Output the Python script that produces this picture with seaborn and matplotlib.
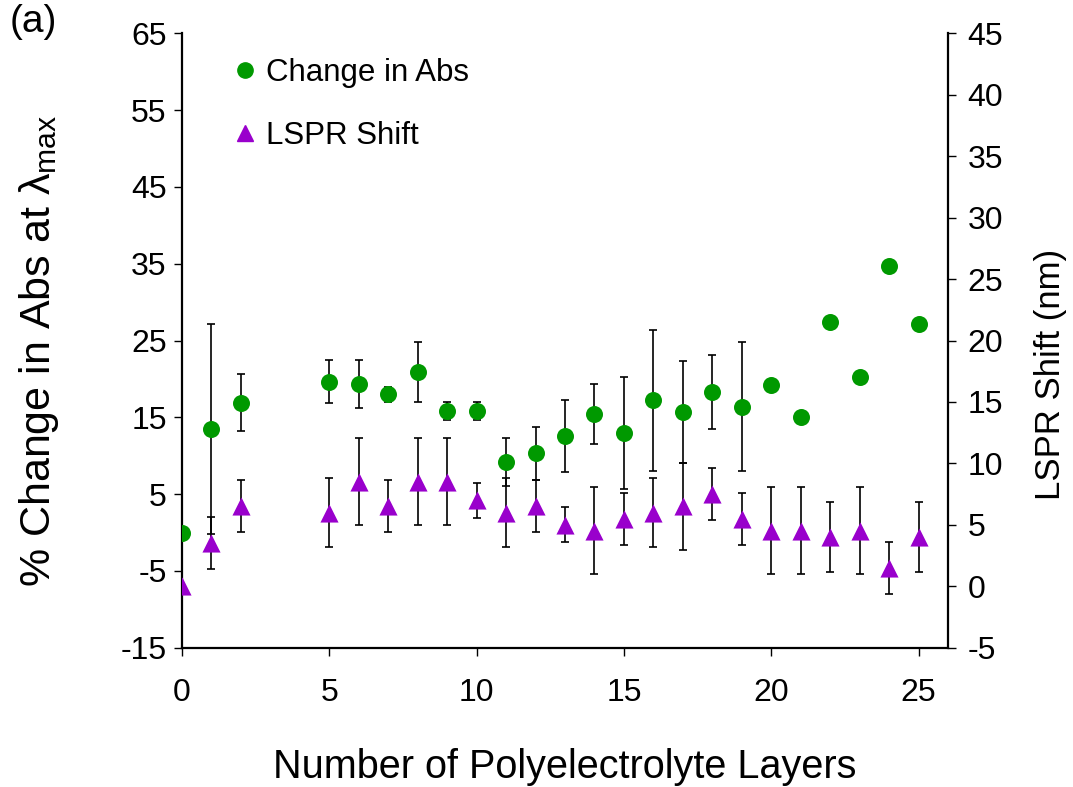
import matplotlib
matplotlib.use("Agg")
import matplotlib.pyplot as plt
from matplotlib.lines import Line2D
import numpy as np
import pandas as pd
import seaborn as sns

# Number of polyelectrolyte layers deposited
layers = [0, 1, 2, 5, 6, 7, 8, 9, 10, 11, 12, 13, 14, 15, 16, 17, 18, 19, 20, 21, 22, 23, 24, 25]

# % change in absorbance at lambda_max (left axis) and its standard deviation
abs_change = [0.0, 13.5, 16.9, 19.6, 19.3, 18.0, 20.9, 15.8, 15.8, 9.2, 10.3, 12.6,
              15.4, 13.0, 17.2, 15.7, 18.3, 16.4, 19.2, 15.0, 27.4, 20.2, 34.7, 27.1]
abs_err = [0.0, 13.7, 3.7, 2.8, 3.1, 1.0, 3.9, 1.2, 1.2, 3.1, 3.5, 4.7,
           3.9, 7.3, 9.2, 6.6, 4.8, 8.4, 0.0, 0.0, 0.0, 0.0, 0.0, 0.0]

# LSPR shift in nm (right axis) and its standard deviation
lspr_shift = [0.0, 3.5, 6.5, 6.0, 8.5, 6.5, 8.5, 8.5, 7.0, 6.0, 6.5, 5.0,
              4.5, 5.5, 6.0, 6.5, 7.5, 5.5, 4.5, 4.5, 4.0, 4.5, 1.5, 4.0]
lspr_err = [0.0, 2.12, 2.12, 2.83, 3.54, 2.12, 3.54, 3.54, 1.41, 2.83, 2.12, 1.41,
            3.54, 2.12, 2.83, 3.54, 2.12, 2.12, 3.54, 3.54, 2.83, 3.54, 2.12, 2.83]

left_ticks = list(range(-15, 66, 10))
right_ticks = list(range(-5, 46, 5))
x_ticks = list(range(0, 26, 5))

GREEN = "#009900"
PURPLE = "#9900CC"

sns.set_theme(style="ticks")
plt.rcParams["font.family"] = ["Liberation Sans", "DejaVu Sans"]
plt.rcParams["mathtext.fontset"] = "custom"
plt.rcParams["mathtext.rm"] = "Liberation Sans"
plt.rcParams["mathtext.it"] = "Liberation Sans:italic"
plt.rcParams["axes.unicode_minus"] = False
plt.rcParams["text.color"] = "black"
plt.rcParams["axes.labelcolor"] = "black"

df = pd.DataFrame({"layers": layers, "abs": abs_change, "abs_err": abs_err,
                   "lspr": lspr_shift, "lspr_err": lspr_err})

fig = plt.figure(figsize=(10.73, 7.87), dpi=100)
ax = fig.add_axes([182 / 1073, 1 - 647.7 / 787, (948 - 182) / 1073, (647.7 - 33.3) / 787])
ax2 = ax.twinx()

# error bars underneath the markers
ax.errorbar(df["layers"], df["abs"], yerr=df["abs_err"], fmt="none", ecolor="black",
            elinewidth=1.2, capsize=3, capthick=1.2, zorder=1)
ax2.errorbar(df["layers"], df["lspr"], yerr=df["lspr_err"], fmt="none", ecolor="black",
             elinewidth=1.2, capsize=3, capthick=1.2, zorder=1)

sns.scatterplot(data=df, x="layers", y="abs", ax=ax, color=GREEN, marker="o",
                s=150, linewidth=0, zorder=3, legend=False)
sns.scatterplot(data=df, x="layers", y="lspr", ax=ax2, color=PURPLE, marker="^",
                s=170, linewidth=0, zorder=3, legend=False)

ax.set_xlim(0, 26)
ax.set_ylim(-15, 65)
ax2.set_ylim(-5, 45)
ax.set_xticks(x_ticks)
ax.set_yticks(left_ticks)
ax2.set_yticks(right_ticks)

for a in (ax, ax2):
    a.spines["top"].set_visible(False)
    for s in ("left", "right", "bottom"):
        a.spines[s].set_linewidth(1.6)
        a.spines[s].set_color("black")
ax.spines["right"].set_visible(False)
ax2.spines["left"].set_visible(False)
ax2.spines["bottom"].set_visible(False)

ax.tick_params(axis="y", direction="out", length=6, width=1.0, labelsize=23, pad=5, colors="black")
ax.tick_params(axis="x", direction="out", length=6, width=1.0, labelsize=23, pad=16, colors="black")
ax2.tick_params(axis="y", direction="out", length=6, width=1.0, labelsize=23, pad=8, colors="black")

ax.set_xlabel("Number of Polyelectrolyte Layers", fontsize=28.5)
ax.set_ylabel(r"% Change in Abs at λ$_{\mathrm{max}}$", fontsize=31)
ax2.set_ylabel("LSPR Shift (nm)", fontsize=25)
ax.xaxis.set_label_coords(0.5, -0.163)
ax.yaxis.set_label_coords(-0.158, 0.483)
ax2.yaxis.set_label_coords(1.112, 0.444)

handles = [
    Line2D([], [], linestyle="none", marker="o", color=GREEN, markersize=11),
    Line2D([], [], linestyle="none", marker="^", color=PURPLE, markersize=11),
]
ax.legend(handles, ["Change in Abs", "LSPR Shift"], loc="upper left",
          bbox_to_anchor=(0.05, 0.985), frameon=False, fontsize=22.5,
          handlelength=0.6, handletextpad=0.35, labelspacing=1.05, borderpad=0)

fig.text(0.009, 1 - 22 / 787, "(a)", fontsize=28, va="center", ha="left")

fig.savefig("out.png", dpi=100)
